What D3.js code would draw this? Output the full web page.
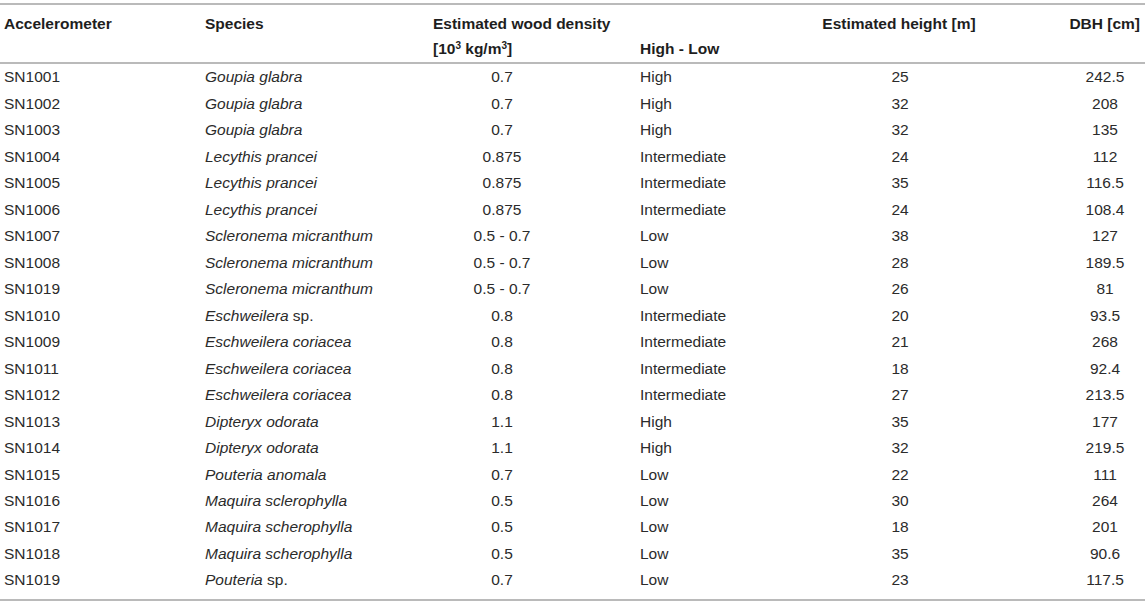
<html>
<head>
  <meta charset="UTF-8">
  <title>Accelerometer trees</title>
  <script src="https://cdn.jsdelivr.net/npm/d3@7"></script>
  <style>
    body { margin: 0; background: #fff; }
    svg text { font-family: "Liberation Sans", Arial, Helvetica, sans-serif; font-size: 15.5px; fill: #2b2b2b; }
    .hd { font-weight: bold; fill: #1e1e1e; }
  </style>
</head>
<body>
  <svg id="chart" width="1145" height="604"></svg>
  <script>
  //-----------------------------------------
  // table data
  var accelerometers = ["SN1001", "SN1002", "SN1003", "SN1004", "SN1005", "SN1006", "SN1007", "SN1008", "SN1019", "SN1010",
    "SN1009", "SN1011", "SN1012", "SN1013", "SN1014", "SN1015", "SN1016", "SN1017", "SN1018", "SN1019"];
  var species = ["Goupia glabra", "Goupia glabra", "Goupia glabra", "Lecythis prancei", "Lecythis prancei", "Lecythis prancei",
    "Scleronema micranthum", "Scleronema micranthum", "Scleronema micranthum", "Eschweilera sp.", "Eschweilera coriacea",
    "Eschweilera coriacea", "Eschweilera coriacea", "Dipteryx odorata", "Dipteryx odorata", "Pouteria anomala",
    "Maquira sclerophylla", "Maquira scherophylla", "Maquira scherophylla", "Pouteria sp."];
  var density = ["0.7", "0.7", "0.7", "0.875", "0.875", "0.875", "0.5 - 0.7", "0.5 - 0.7", "0.5 - 0.7", "0.8",
    "0.8", "0.8", "0.8", "1.1", "1.1", "0.7", "0.5", "0.5", "0.5", "0.7"];
  var densityClass = ["High", "High", "High", "Intermediate", "Intermediate", "Intermediate", "Low", "Low", "Low", "Intermediate",
    "Intermediate", "Intermediate", "Intermediate", "High", "High", "Low", "Low", "Low", "Low", "Low"];
  var heights = [25, 32, 32, 24, 35, 24, 38, 28, 26, 20, 21, 18, 27, 35, 32, 22, 30, 18, 35, 23];
  var dbh = [242.5, 208, 135, 112, 116.5, 108.4, 127, 189.5, 81, 93.5, 268, 92.4, 213.5, 177, 219.5, 111, 264, 201, 90.6, 117.5];

  var W = 1145, H = 604;
  var svg = d3.select("#chart");

  var rows = d3.range(accelerometers.length);
  var y = d3.scalePoint().domain(rows).range([77, 580]);

  // rules
  var rules = [{ y: 4 }, { y: 63 }, { y: 600 }];
  svg.selectAll("line.rule").data(rules).enter().append("line")
    .attr("class", "rule")
    .attr("x1", 0).attr("x2", W)
    .attr("y1", function (d) { return d.y; }).attr("y2", function (d) { return d.y; })
    .style("stroke", "#a3a3a3").style("stroke-width", 1.6);

  // header
  var head = svg.append("g").attr("class", "header");
  function hd(x, yy, txt, anchor) {
    return head.append("text").attr("class", "hd").attr("x", x).attr("y", yy)
      .attr("dy", "0.35em").attr("text-anchor", anchor || "start").text(txt);
  }
  hd(4, 24, "Accelerometer");
  hd(205, 24, "Species");
  hd(433, 24, "Estimated wood density");
  hd(899, 24, "Estimated height [m]", "middle");
  hd(1140, 24, "DBH [cm]", "end");
  hd(640, 49, "High - Low");
  var unit = hd(433, 49, "[10");
  unit.append("tspan").attr("dy", -5).style("font-size", "10px").text("3");
  unit.append("tspan").attr("dy", 5).text(" kg/m");
  unit.append("tspan").attr("dy", -5).style("font-size", "10px").text("3");
  unit.append("tspan").attr("dy", 5).text("]");

  // body
  var body = svg.append("g").attr("class", "body");
  var row = body.selectAll("g.row").data(rows).enter().append("g")
    .attr("class", "row")
    .attr("transform", function (i) { return "translate(0," + y(i) + ")"; });

  row.append("text").attr("x", 4).attr("dy", "0.35em")
    .text(function (i) { return accelerometers[i]; });

  row.append("text").attr("x", 205).attr("dy", "0.35em")
    .each(function (i) {
      var t = d3.select(this), s = species[i];
      if (/ sp\.$/.test(s)) {
        t.append("tspan").style("font-style", "italic").text(s.replace(/ sp\.$/, ""));
        t.append("tspan").text(" sp.");
      } else {
        t.append("tspan").style("font-style", "italic").text(s);
      }
    });

  row.append("text").attr("x", 502).attr("dy", "0.35em").attr("text-anchor", "middle")
    .text(function (i) { return density[i]; });

  row.append("text").attr("x", 640).attr("dy", "0.35em")
    .text(function (i) { return densityClass[i]; });

  row.append("text").attr("x", 900).attr("dy", "0.35em").attr("text-anchor", "middle")
    .text(function (i) { return heights[i]; });

  row.append("text").attr("x", 1105).attr("dy", "0.35em").attr("text-anchor", "middle")
    .text(function (i) { return dbh[i]; });
  </script>
</body>
</html>
